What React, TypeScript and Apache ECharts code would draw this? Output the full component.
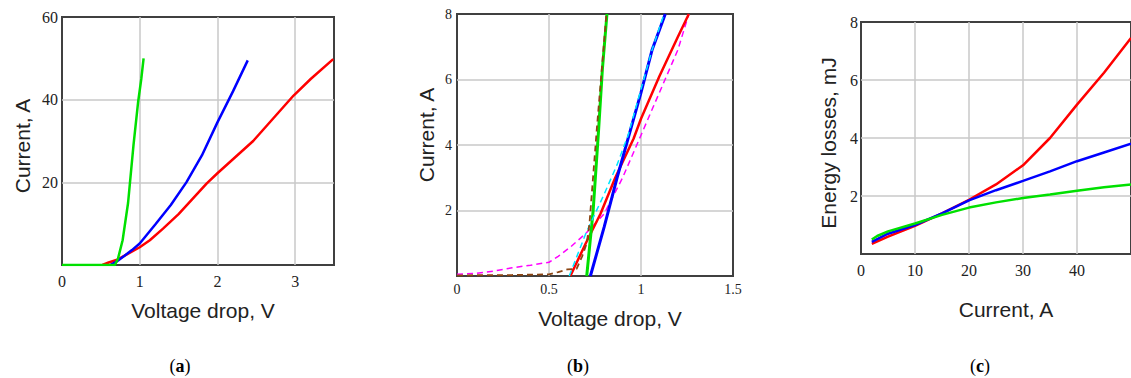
import React, { useEffect, useRef } from "react";
import * as echarts from "echarts";

type P = [number, number][];

// Panel (a): Current vs Voltage drop
const aGreen: P = [[0, 0], [0.3, 0], [0.68, 0], [0.72, 1.5], [0.78, 6], [0.85, 15], [0.92, 29], [0.98, 39.5], [1.02, 45], [1.05, 50]];
const aBlue: P = [[0.62, 0], [0.7, 0.8], [0.8, 2.2], [0.9, 3.6], [1.0, 5.2], [1.1, 7.5], [1.2, 9.8], [1.4, 14.5], [1.6, 20], [1.8, 26.5], [2.0, 34.5], [2.2, 42], [2.39, 49.5]];
const aRed: P = [[0.52, 0], [0.6, 0.6], [0.7, 1.2], [0.8, 2.2], [1.0, 4.3], [1.13, 6], [1.3, 8.8], [1.5, 12.3], [1.86, 19.7], [2.0, 22.2], [2.46, 30], [2.98, 41], [3.2, 45], [3.49, 49.8]];

// Panel (b): zoom of low-current region
const bMagenta: P = [[0, 0.05], [0.1, 0.08], [0.2, 0.15], [0.3, 0.25], [0.4, 0.33], [0.5, 0.42], [0.55, 0.6], [0.62, 0.9], [0.7, 1.3], [0.8, 1.9], [0.9, 3.0], [1.0, 4.3], [1.1, 5.6], [1.2, 6.9], [1.26, 8]];
const bBrown: P = [[0, 0.02], [0.3, 0.03], [0.5, 0.05], [0.55, 0.12], [0.6, 0.2], [0.65, 0.22], [0.68, 0.6], [0.705, 1.0], [0.72, 1.6], [0.76, 4.5], [0.812, 8]];
const bCyan: P = [[0.61, 0], [0.7, 1.3], [0.8, 2.5], [0.87, 3.4], [0.93, 4.3], [1.0, 5.7], [1.06, 6.9], [1.125, 8]];
const bRed: P = [[0.616, 0], [0.7, 1.0], [0.78, 1.9], [0.86, 3.0], [0.96, 4.2], [1.0, 4.8], [1.1, 6.1], [1.2, 7.3], [1.26, 8]];
const bBlue: P = [[0.725, 0], [0.8, 1.5], [0.87, 3.0], [0.93, 4.2], [1.0, 5.6], [1.06, 6.9], [1.132, 8]];
const bGreen: P = [[0.705, 0], [0.74, 2], [0.77, 4.5], [0.79, 6.3], [0.815, 8]];

// Panel (c): Energy losses vs Current
const cRed: P = [[2, 0.35], [5, 0.6], [10, 0.97], [15, 1.4], [20, 1.87], [25, 2.4], [30, 3.06], [35, 4.0], [40, 5.15], [45, 6.25], [50, 7.45]];
const cBlue: P = [[2, 0.42], [5, 0.7], [10, 1.0], [15, 1.4], [20, 1.85], [25, 2.2], [30, 2.52], [35, 2.85], [40, 3.2], [45, 3.5], [50, 3.8]];
const cGreen: P = [[2, 0.5], [3, 0.62], [5, 0.78], [10, 1.05], [15, 1.35], [20, 1.6], [25, 1.78], [30, 1.93], [35, 2.05], [40, 2.18], [45, 2.3], [50, 2.4]];

const xTitles = ["Voltage drop, V", "Voltage drop, V", "Current, A"];
const yTitles = ["Current, A", "Current, A", "Energy losses, mJ"];
const captions = ["a", "b", "c"];

const TXT = "#222";
const SANS = "Liberation Sans, Arial, sans-serif";
const SERIF = "Liberation Serif, Times New Roman, serif";

function xAx(gridIndex: number, min: number, max: number, interval: number, fontSize: number, margin: number, showMax: boolean) {
  return {
    type: "value", gridIndex, min, max, interval,
    axisLine: { show: false }, axisTick: { show: false },
    axisLabel: { fontFamily: SERIF, fontSize, color: TXT, margin, showMaxLabel: showMax },
    splitLine: { show: true, showMinLine: false, showMaxLine: false, lineStyle: { color: "#c8c8c8", width: 1.5 } },
  };
}
function yAx(gridIndex: number, min: number, max: number, interval: number, fontSize: number, margin: number) {
  return {
    type: "value", gridIndex, min, max, interval,
    axisLine: { show: false }, axisTick: { show: false },
    axisLabel: { fontFamily: SERIF, fontSize, color: TXT, margin, showMinLabel: false },
    splitLine: { show: true, showMinLine: false, showMaxLine: false, lineStyle: { color: "#c8c8c8", width: 1.5 } },
  };
}
function line(idx: number, data: P, color: string, width: number, dashed = false, z = 2) {
  return {
    type: "line", xAxisIndex: idx, yAxisIndex: idx, data, showSymbol: false, symbol: "none", z,
    lineStyle: { color, width, type: dashed ? [6, 4] : "solid" },
  };
}

export default function App() {
  const ref = useRef<HTMLDivElement>(null);
  useEffect(() => {
    if (!ref.current) return;
    const chart = echarts.init(ref.current, undefined, { renderer: "svg" });
    const grid = (left: number, top: number, width: number, height: number) => ({
      left, top, width, height, show: true, borderColor: "#404040", borderWidth: 2, backgroundColor: "#fff",
    });
    const titleText = (text: string, x: number, y: number, rot = 0) => ({
      type: "text", x, y, rotation: rot, z: 10,
      style: { text, fontFamily: SANS, fontSize: 21, fill: TXT, align: "center", verticalAlign: "middle" },
    });
    const cap = (c: string, x: number) => ({
      type: "text", x, y: 366, z: 10,
      style: {
        text: "({b|" + c + "})", fontFamily: SERIF, fontSize: 18, fill: "#000", align: "center", verticalAlign: "middle",
        rich: { b: { fontFamily: SERIF, fontSize: 18, fontWeight: "bold", fill: "#000" } },
      },
    });
    chart.setOption({
      animation: false,
      backgroundColor: "#fff",
      grid: [grid(62, 17, 272, 248), grid(457, 14, 276, 262), grid(861, 22, 276, 232)],
      xAxis: [xAx(0, 0, 3.5, 1, 16, 8, false), xAx(1, 0, 1.5, 0.5, 14, 6, true), xAx(2, 0, 50, 10, 16, 8, false)],
      yAxis: [yAx(0, 0, 60, 20, 16, 4), yAx(1, 0, 8, 2, 14, 5), yAx(2, 0, 8, 2, 16, 3)],
      series: [
        line(0, aRed, "#ff0000", 2.5),
        line(0, aBlue, "#0000ff", 2.5),
        line(0, aGreen, "#00e000", 2.5, false, 3),
        line(1, bMagenta, "#ff00ff", 1.5, true),
        line(1, bRed, "#ff0000", 2.5),
        line(1, bBlue, "#0000ff", 3),
        line(1, bCyan, "#00e5ff", 1.5, true, 3),
        line(1, bGreen, "#00e000", 3),
        line(1, bBrown, "#8b4513", 1.8, true, 3),
        line(2, cRed, "#ff0000", 2.5),
        line(2, cBlue, "#0000ff", 2.5),
        line(2, cGreen, "#00e000", 2.5),
      ],
      graphic: [
        titleText(xTitles[0], 203, 310),
        titleText(xTitles[1], 610, 318),
        titleText(xTitles[2], 1006, 309),
        titleText(yTitles[0], 22, 146, Math.PI / 2),
        titleText(yTitles[1], 426, 135, Math.PI / 2),
        titleText(yTitles[2], 828, 143, Math.PI / 2),
        cap(captions[0], 180),
        cap(captions[1], 578),
        cap(captions[2], 980),
      ],
    });
    return () => chart.dispose();
  }, []);
  return (
    <div
      ref={ref}
      style={{ position: "fixed", left: 0, top: 0, width: 1131, height: 378, background: "#fff" }}
    />
  );
}
